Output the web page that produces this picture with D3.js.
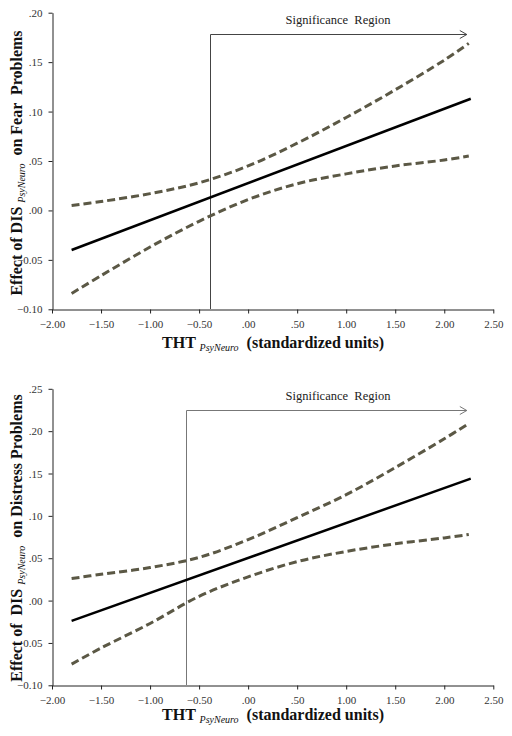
<!DOCTYPE html>
<html><head><meta charset="utf-8">
<script src="https://cdn.jsdelivr.net/npm/d3@7"></script>
<style>body{margin:0;background:#fff}svg{display:block}</style>
</head><body>
<script>
// ---- data ----
const xTicks = [-2.0,-1.5,-1.0,-0.5,0,0.5,1.0,1.5,2.0,2.5];
const yTicksFear = [-0.10,-0.05,0.00,0.05,0.10,0.15,0.20];
const yTicksDistress = [-0.10,-0.05,0.00,0.05,0.10,0.15,0.20,0.25];

const bandX = [-1.8,-1.5,-1.0,-0.5,0.0,0.5,1.0,1.5,2.0,2.25];
const fitX = [-1.8, 2.27];

const fearFit = [-0.040, 0.113];
const fearUpper = [0.005,0.009,0.017,0.028,0.045,0.068,0.094,0.122,0.152,0.169];
const fearLower = [-0.084,-0.066,-0.037,-0.011,0.011,0.027,0.037,0.045,0.051,0.055];
const fearSigStart = -0.39, fearSigTop = 0.178, fearSigEnd = 2.23;

const distFit = [-0.024, 0.144];
const distUpper = [0.026,0.031,0.039,0.051,0.072,0.098,0.125,0.157,0.191,0.209];
const distLower = [-0.075,-0.056,-0.027,0.005,0.028,0.046,0.058,0.067,0.074,0.078];
const distSigStart = -0.63, distSigTop = 0.225, distSigEnd = 2.23;

const sigLabel = "Significance  Region";
const xTitleMain = "THT ", xTitleSub = "PsyNeuro", xTitleRest = "  (standardized units)";
const fearTitle = ["Effect of DIS ", "PsyNeuro", "  on Fear  Problems"];
const distTitle = ["Effect of  DIS ", "PsyNeuro", "  on Distress Problems"];

// ---- drawing ----
const W = 512, H = 736;
const svg = d3.select("body").append("svg").attr("width", W).attr("height", H);
const FONT = "'Liberation Serif','Times New Roman',serif";
const fmt = v => {
  let s = d3.format(".2f")(Math.abs(v) < 1e-9 ? 0 : v);
  return s.replace(/^(-?)0\./, "$1.");
};

function panel(cfg) {
  const x = d3.scaleLinear().domain([-2, 2.5]).range([52, 493.3]);
  const y = d3.scaleLinear().domain(cfg.yDomain).range(cfg.yRange);
  const g = svg.append("g");

  // axes
  const xa = g.append("g").attr("transform", `translate(0,${Math.round(cfg.yRange[0])+0.5})`)
    .call(d3.axisBottom(x).tickValues(xTicks).tickFormat(fmt).tickSize(4).tickSizeOuter(0));
  const ya = g.append("g").attr("transform", `translate(${52.5},0)`)
    .call(d3.axisLeft(y).tickValues(cfg.yTicks).tickFormat(fmt).tickSize(4).tickSizeOuter(0));
  [xa, ya].forEach(a => {
    a.selectAll("path,line").attr("stroke", "#222").attr("stroke-width", 1);
    a.selectAll("text").attr("font-family", FONT).attr("font-size", 11).attr("fill", "#333");
  });
  xa.selectAll("text").attr("dy", "1.0em");
  ya.selectAll("text").attr("dx", "-3");

  // significance region marker
  const xs = Math.round(x(cfg.sigStart)) + 0.5, yt = Math.round(y(cfg.sigTop)) + 0.5, xe = x(cfg.sigEnd);
  g.append("path")
    .attr("d", `M${xs},${Math.round(cfg.yRange[0])}V${yt}H${xe}`)
    .attr("fill", "none").attr("stroke", cfg.sigColor).attr("stroke-width", 1);
  g.append("path")
    .attr("d", `M${xe-7},${yt-4}L${xe},${yt}L${xe-7},${yt+4}`)
    .attr("fill", "none").attr("stroke", cfg.sigColor).attr("stroke-width", 1);
  g.append("text").attr("x", 338).attr("y", yt - 11).attr("text-anchor", "middle")
    .attr("font-family", FONT).attr("font-size", 12.5).attr("fill", "#222")
    .style("white-space", "pre").text(sigLabel);

  // band lines
  const line = d3.line().x(d => x(d[0])).y(d => y(d[1])).curve(d3.curveCatmullRom.alpha(0.5));
  [cfg.upper, cfg.lower].forEach(arr => {
    g.append("path").datum(bandX.map((v, i) => [v, arr[i]]))
      .attr("d", line).attr("fill", "none").attr("stroke", "#5b5845")
      .attr("stroke-width", 3).attr("stroke-dasharray", "8,4");
  });
  g.append("path").datum(fitX.map((v, i) => [v, cfg.fit[i]]))
    .attr("d", d3.line().x(d => x(d[0])).y(d => y(d[1])))
    .attr("fill", "none").attr("stroke", "#000").attr("stroke-width", 2.5);

  // x title
  const xt = g.append("text").attr("x", 273).attr("y", cfg.xTitleY).attr("text-anchor", "middle")
    .attr("font-family", FONT).attr("font-size", 16).attr("font-weight", "bold").attr("fill", "#111")
    .style("white-space", "pre");
  xt.append("tspan").text(xTitleMain);
  xt.append("tspan").attr("font-style", "italic").attr("font-weight", "normal").attr("font-size", 10)
    .attr("dy", 3).text(xTitleSub);
  xt.append("tspan").attr("dy", -3).text(xTitleRest);

  // y title
  const yt2 = g.append("text").attr("transform", `translate(22,${cfg.yTitleC}) rotate(-90)`)
    .attr("text-anchor", "middle")
    .attr("font-family", FONT).attr("font-size", 16).attr("font-weight", "bold").attr("fill", "#111")
    .style("white-space", "pre");
  yt2.append("tspan").text(cfg.title[0]);
  yt2.append("tspan").attr("font-style", "italic").attr("font-weight", "normal").attr("font-size", 10)
    .attr("dy", 3).text(cfg.title[1]);
  yt2.append("tspan").attr("dy", -3).text(cfg.title[2]);
}

panel({yDomain: [-0.10, 0.20], yRange: [309.3, 12.7], yTicks: yTicksFear,
  fit: fearFit, upper: fearUpper, lower: fearLower,
  sigStart: fearSigStart, sigTop: fearSigTop, sigEnd: fearSigEnd, sigColor: "#444",
  xTitleY: 348, yTitleC: 163, title: fearTitle});
panel({yDomain: [-0.10, 0.25], yRange: [685.3, 388.8], yTicks: yTicksDistress,
  fit: distFit, upper: distUpper, lower: distLower,
  sigStart: distSigStart, sigTop: distSigTop, sigEnd: distSigEnd, sigColor: "#777",
  xTitleY: 720, yTitleC: 538, title: distTitle});
</script>
</body></html>
